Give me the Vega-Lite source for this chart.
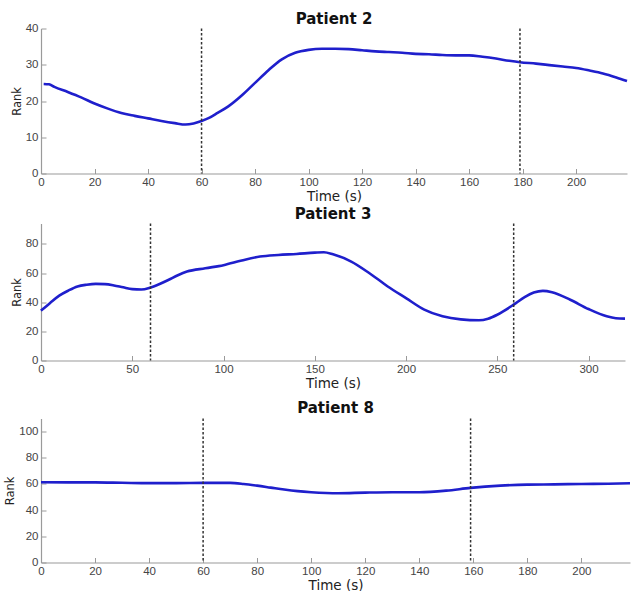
{
  "$schema": "https://vega.github.io/schema/vega-lite/v6.json",
  "padding": {"left": 4, "top": 11.5, "right": 0, "bottom": 0},
  "background": "white",
  "datasets": {
    "p2": [
      {"t": 1, "rank": 24.7}, {"t": 3, "rank": 24.6}, {"t": 5, "rank": 23.9}, {"t": 10, "rank": 22.5},
      {"t": 15, "rank": 21.0}, {"t": 20, "rank": 19.3}, {"t": 25, "rank": 17.9}, {"t": 30, "rank": 16.7},
      {"t": 35, "rank": 15.9}, {"t": 40, "rank": 15.2}, {"t": 45, "rank": 14.5}, {"t": 50, "rank": 13.9},
      {"t": 54, "rank": 13.5}, {"t": 57, "rank": 13.8}, {"t": 60, "rank": 14.5}, {"t": 63, "rank": 15.4},
      {"t": 66, "rank": 16.7}, {"t": 70, "rank": 18.5}, {"t": 75, "rank": 21.5}, {"t": 80, "rank": 25.0},
      {"t": 85, "rank": 28.5}, {"t": 90, "rank": 31.5}, {"t": 95, "rank": 33.3}, {"t": 100, "rank": 34.1},
      {"t": 105, "rank": 34.4}, {"t": 110, "rank": 34.4}, {"t": 115, "rank": 34.3}, {"t": 120, "rank": 34.0},
      {"t": 125, "rank": 33.7}, {"t": 130, "rank": 33.5}, {"t": 135, "rank": 33.3}, {"t": 140, "rank": 33.0},
      {"t": 145, "rank": 32.9}, {"t": 150, "rank": 32.7}, {"t": 155, "rank": 32.6}, {"t": 160, "rank": 32.6},
      {"t": 165, "rank": 32.2}, {"t": 170, "rank": 31.7}, {"t": 175, "rank": 31.1}, {"t": 179, "rank": 30.7},
      {"t": 185, "rank": 30.3}, {"t": 190, "rank": 29.9}, {"t": 195, "rank": 29.5}, {"t": 200, "rank": 29.1},
      {"t": 205, "rank": 28.4}, {"t": 210, "rank": 27.6}, {"t": 215, "rank": 26.5}, {"t": 219, "rank": 25.5}
    ],
    "p3": [
      {"t": 0, "rank": 34.2}, {"t": 5, "rank": 39.5}, {"t": 10, "rank": 44.5}, {"t": 15, "rank": 48.0},
      {"t": 20, "rank": 50.8}, {"t": 25, "rank": 52.0}, {"t": 30, "rank": 52.6}, {"t": 35, "rank": 52.4},
      {"t": 40, "rank": 51.5}, {"t": 45, "rank": 50.2}, {"t": 50, "rank": 49.0}, {"t": 55, "rank": 48.7},
      {"t": 60, "rank": 50.1}, {"t": 65, "rank": 52.5}, {"t": 70, "rank": 55.4}, {"t": 75, "rank": 58.5},
      {"t": 80, "rank": 61.0}, {"t": 90, "rank": 63.3}, {"t": 100, "rank": 65.4}, {"t": 110, "rank": 68.6},
      {"t": 120, "rank": 71.3}, {"t": 130, "rank": 72.4}, {"t": 140, "rank": 73.1}, {"t": 150, "rank": 74.0},
      {"t": 155, "rank": 74.3}, {"t": 160, "rank": 72.9}, {"t": 170, "rank": 67.9}, {"t": 180, "rank": 59.9},
      {"t": 190, "rank": 50.8}, {"t": 200, "rank": 42.8}, {"t": 210, "rank": 34.9}, {"t": 220, "rank": 30.3},
      {"t": 230, "rank": 28.2}, {"t": 240, "rank": 27.6}, {"t": 245, "rank": 28.7}, {"t": 250, "rank": 31.4},
      {"t": 259, "rank": 38.3}, {"t": 265, "rank": 43.5}, {"t": 270, "rank": 46.6}, {"t": 275, "rank": 47.8},
      {"t": 280, "rank": 46.9}, {"t": 290, "rank": 41.7}, {"t": 300, "rank": 35.3}, {"t": 310, "rank": 30.3},
      {"t": 315, "rank": 29.0}, {"t": 320, "rank": 28.7}
    ],
    "p8": [
      {"t": 0, "rank": 61.3}, {"t": 10, "rank": 61.2}, {"t": 20, "rank": 61.2}, {"t": 30, "rank": 60.9},
      {"t": 40, "rank": 60.6}, {"t": 50, "rank": 60.6}, {"t": 60, "rank": 60.8}, {"t": 70, "rank": 60.8},
      {"t": 75, "rank": 60.0}, {"t": 80, "rank": 58.7}, {"t": 85, "rank": 57.2}, {"t": 90, "rank": 55.7},
      {"t": 95, "rank": 54.5}, {"t": 100, "rank": 53.7}, {"t": 110, "rank": 52.9}, {"t": 120, "rank": 53.4},
      {"t": 130, "rank": 53.7}, {"t": 140, "rank": 53.7}, {"t": 150, "rank": 54.9}, {"t": 159, "rank": 57.0},
      {"t": 170, "rank": 58.7}, {"t": 180, "rank": 59.5}, {"t": 190, "rank": 59.7}, {"t": 200, "rank": 60.0},
      {"t": 210, "rank": 60.2}, {"t": 218, "rank": 60.5}
    ]
  },
  "config": {
    "font": "Liberation Sans",
    "view": {"stroke": null},
    "title": {"fontSize": 15, "fontWeight": "bold", "color": "#111111", "offset": 5, "anchor": "middle", "font": "DejaVu Sans"},
    "axis": {
      "grid": false,
      "domainColor": "#9a9a9a",
      "domainWidth": 1.2,
      "tickColor": "#9a9a9a",
      "tickSize": -5,
      "labelPadding": 8,
      "labelFontSize": 11.5,
      "labelColor": "#444444",
      "labelFont": "Liberation Sans",
      "labelFlush": false,
      "labelOverlap": false,
      "titleFontWeight": "normal",
      "titleColor": "#222222",
      "titleFont": "DejaVu Sans"
    },
    "axisX": {"titlePadding": 1, "titleFontSize": 13.5},
    "axisY": {"titlePadding": 3, "titleFontSize": 11.5}
  },
  "vconcat": [
    {
      "spacing": 4,
      "vconcat": [
        {
          "title": {"text": "Patient 2", "offset": -4.5},
          "width": 586,
          "height": 145,
          "layer": [
            {
              "data": {"name": "p2"},
              "mark": {"type": "line", "color": "#1f1fcc", "strokeWidth": 2.6, "interpolate": "monotone"},
              "encoding": {
                "x": {"field": "t", "type": "quantitative", "scale": {"domain": [0, 219], "nice": false, "zero": false},
                      "axis": {"values": [0, 20, 40, 60, 80, 100, 120, 140, 160, 180, 200], "title": "Time (s)"}},
                "y": {"field": "rank", "type": "quantitative", "scale": {"domain": [0, 40], "nice": false},
                      "axis": {"values": [0, 10, 20, 30, 40], "title": "Rank"}}
              }
            },
            {
              "data": {"values": [{"t": 60}, {"t": 179}]},
              "mark": {"type": "rule", "color": "#333333", "strokeWidth": 1.5, "strokeDash": [2.5, 2]},
              "encoding": {"x": {"field": "t", "type": "quantitative"}}
            }
          ]
        },
        {
          "title": {"text": "Patient 3", "offset": 0.5},
          "width": 584,
          "height": 137,
          "layer": [
            {
              "data": {"name": "p3"},
              "mark": {"type": "line", "color": "#1f1fcc", "strokeWidth": 2.6, "interpolate": "monotone"},
              "encoding": {
                "x": {"field": "t", "type": "quantitative", "scale": {"domain": [0, 320], "nice": false, "zero": false},
                      "axis": {"values": [0, 50, 100, 150, 200, 250, 300], "title": "Time (s)"}},
                "y": {"field": "rank", "type": "quantitative", "scale": {"domain": [0, 94], "nice": false},
                      "axis": {"values": [0, 20, 40, 60, 80], "title": "Rank"}}
              }
            },
            {
              "data": {"values": [{"t": 60}, {"t": 259}]},
              "mark": {"type": "rule", "color": "#333333", "strokeWidth": 1.5, "strokeDash": [2.5, 2]},
              "encoding": {"x": {"field": "t", "type": "quantitative"}}
            }
          ]
        }
      ]
    },
    {
      "title": {"text": "Patient 8", "offset": 1.5},
      "width": 589,
      "height": 144,
      "layer": [
        {
          "data": {"name": "p8"},
          "mark": {"type": "line", "color": "#1f1fcc", "strokeWidth": 2.6, "interpolate": "monotone"},
          "encoding": {
            "x": {"field": "t", "type": "quantitative", "scale": {"domain": [0, 218], "nice": false, "zero": false},
                  "axis": {"values": [0, 20, 40, 60, 80, 100, 120, 140, 160, 180, 200], "title": "Time (s)"}},
            "y": {"field": "rank", "type": "quantitative", "scale": {"domain": [0, 110], "nice": false},
                  "axis": {"values": [0, 20, 40, 60, 80, 100], "title": "Rank"}}
          }
        },
        {
          "data": {"values": [{"t": 60}, {"t": 159}]},
          "mark": {"type": "rule", "color": "#333333", "strokeWidth": 1.5, "strokeDash": [2.5, 2]},
          "encoding": {"x": {"field": "t", "type": "quantitative"}}
        }
      ]
    }
  ],
  "spacing": 11
}
